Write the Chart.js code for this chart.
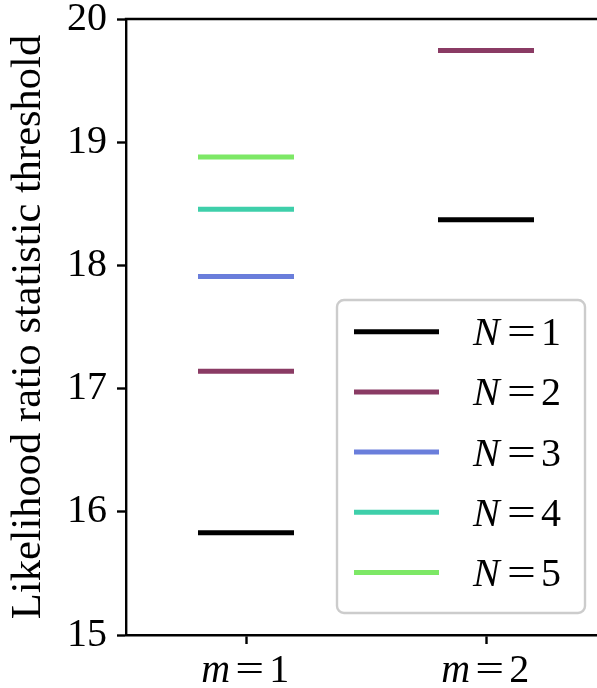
<!DOCTYPE html>
<html><head><meta charset="utf-8">
<script src="https://cdn.jsdelivr.net/npm/chart.js@4"></script>
<style>html,body{margin:0;padding:0;overflow:hidden;background:#fff}#wrap{width:612px;height:688px}</style>
</head><body><div id="wrap"><canvas id="c" width="612" height="688"></canvas></div>
<script>
const categories = ['m=1', 'm=2'];
const seriesLabels = ['N=1', 'N=2', 'N=3', 'N=4', 'N=5'];
const thresholdN1 = [15.83, 18.37];
const thresholdN2 = [17.14, 19.745];
const thresholdN3 = [17.91, null];
const thresholdN4 = [18.455, null];
const thresholdN5 = [18.88, null];
const seriesColors = ['#000000', '#8a3b64', '#6a7edb', '#3ecfaa', '#7de866'];
const yTicks = [15, 16, 17, 18, 19, 20];
const yTitle = 'Likelihood ratio statistic threshold';

const FONT = '"Liberation Serif", "DejaVu Serif", serif';
const HALF = 0.2;
function segments(values) {
  const pts = [];
  values.forEach((v, i) => {
    if (v === null) return;
    pts.push({x: i - HALF, y: v}, {x: i + HALF, y: v}, {x: i + 0.3, y: null});
  });
  return pts;
}
const allSeries = [thresholdN1, thresholdN2, thresholdN3, thresholdN4, thresholdN5];
const datasets = allSeries.map((vals, k) => ({
  label: seriesLabels[k],
  data: segments(vals),
  borderColor: seriesColors[k],
  backgroundColor: seriesColors[k],
  borderWidth: 5,
  borderCapStyle: 'butt',
  pointRadius: 0,
  spanGaps: false,
  fill: false
}));

function drawMath(ctx, label, startX, baseline) {
  const parts = label.split('=');
  ctx.fillStyle = '#000';
  ctx.textBaseline = 'alphabetic';
  ctx.textAlign = 'left';
  ctx.font = 'italic 40px ' + FONT;
  ctx.fillText(parts[0], startX, baseline);
  ctx.font = '40px ' + FONT;
  ctx.textAlign = 'center';
  ctx.save();
  ctx.translate(startX + 48.5, baseline);
  ctx.scale(1.28, 1);
  ctx.fillText('=', 0, 0);
  ctx.restore();
  ctx.fillText(parts[1], startX + 78, baseline);
}

const decor = {
  id: 'decor',
  afterDraw(chart) {
    const ctx = chart.ctx, a = chart.chartArea;
    ctx.save();
    // top spine
    ctx.strokeStyle = '#000';
    ctx.lineWidth = 2.4;
    ctx.beginPath();
    ctx.moveTo(a.left - 1.2, a.top);
    ctx.lineTo(a.right, a.top);
    ctx.stroke();
    // x tick labels
    const xs = chart.scales.x;
    categories.forEach((c, i) => {
      const px = xs.getPixelForValue(i);
      drawMath(ctx, c, px - 44.7, a.bottom + 47);
    });
    // legend
    const bx = a.right - 269, by = a.bottom - 335, bw = 248, bh = 313;
    ctx.beginPath();
    ctx.roundRect(bx, by, bw, bh, 7);
    ctx.fillStyle = 'rgba(255,255,255,0.8)';
    ctx.fill();
    ctx.strokeStyle = '#cccccc';
    ctx.lineWidth = 2.4;
    ctx.stroke();
    chart.data.datasets.forEach((ds, k) => {
      const ry = by + 31.7 + k * 60.2;
      ctx.strokeStyle = ds.borderColor;
      ctx.lineWidth = 5;
      ctx.lineCap = 'butt';
      ctx.beginPath();
      ctx.moveTo(bx + 17, ry);
      ctx.lineTo(bx + 102, ry);
      ctx.stroke();
      drawMath(ctx, ds.label, bx + 136, ry + 13.5);
    });
    ctx.restore();
  }
};

new Chart(document.getElementById('c'), {
  type: 'line',
  data: {datasets},
  options: {
    responsive: false,
    animation: false,
    layout: {padding: {top: 19, left: 0, right: 6, bottom: 0}},
    plugins: {legend: {display: false}, tooltip: {enabled: false}},
    scales: {
      x: {
        type: 'linear', min: -0.5, max: 1.5,
        afterBuildTicks: s => { s.ticks = categories.map((c, i) => ({value: i})); },
        afterFit: s => { s.height = 53; s.paddingLeft = 0; s.paddingRight = 0; },
        ticks: {display: false},
        grid: {display: true, drawOnChartArea: false, drawTicks: true, tickLength: 9, tickWidth: 2.4, tickColor: '#000'},
        border: {display: true, color: '#000', width: 2.4}
      },
      y: {
        type: 'linear', min: yTicks[0], max: yTicks[yTicks.length - 1],
        afterBuildTicks: s => { s.ticks = yTicks.map(v => ({value: v})); },
        afterFit: s => { s.width = 126; s.paddingTop = 0; s.paddingBottom = 0; },
        ticks: {color: '#000', font: {family: FONT, size: 40}, padding: 10},
        grid: {display: true, drawOnChartArea: false, drawTicks: true, tickLength: 9, tickWidth: 2.4, tickColor: '#000'},
        border: {display: true, color: '#000', width: 2.4},
        title: {display: true, text: yTitle, color: '#000', font: {family: FONT, size: 42.5}, padding: {top: 3, bottom: 0}}
      }
    }
  },
  plugins: [decor]
});
</script>
</body></html>
